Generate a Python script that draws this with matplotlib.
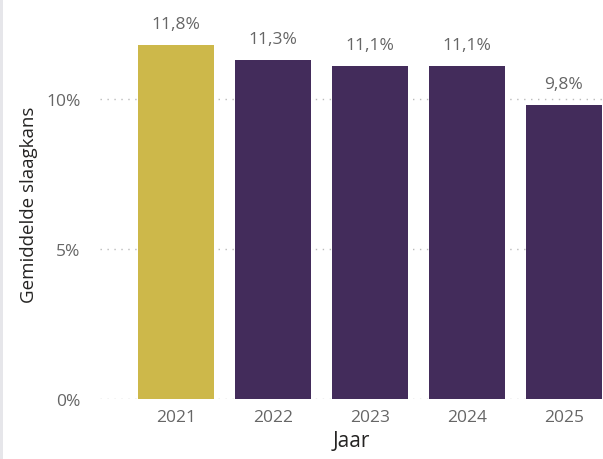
import matplotlib
matplotlib.use("Agg")
import matplotlib.pyplot as plt
from matplotlib.patches import Rectangle

# Data
years = ["2021", "2022", "2023", "2024", "2025"]
pass_rate = [11.8, 11.3, 11.1, 11.1, 9.8]
bar_colors = ["#CDB84A", "#432C5B", "#432C5B", "#432C5B", "#432C5B"]
value_labels = ["11,8%", "11,3%", "11,1%", "11,1%", "9,8%"]
y_ticks = [0, 5, 10]
y_tick_labels = ["0%", "5%", "10%"]

plt.rcParams["font.family"] = ["Open Sans", "DejaVu Sans"]

W, H = 603, 460
fig = plt.figure(figsize=(W / 100, H / 100), dpi=100)
fig.patch.set_facecolor("white")

# thin grey strip on the left edge
fig.patches.append(Rectangle((0, 0), 3 / W, 1, transform=fig.transFigure,
                             facecolor="#E6E6EA", edgecolor="none", zorder=0))

ax_left, ax_right = 100, 603
ax_bottom, ax_top = 400, 10
ax = fig.add_axes([ax_left / W, (H - ax_bottom) / H,
                   (ax_right - ax_left) / W, (ax_bottom - ax_top) / H])

x = list(range(len(years)))
ax.bar(x, pass_rate, width=0.78, color=bar_colors, zorder=2)

for xi, v, lab in zip(x, pass_rate, value_labels):
    ax.annotate(lab, (xi, v), xytext=(0, 9), textcoords="offset points",
                ha="center", va="bottom", fontsize=12.5, color="#666666")

ax.set_xlim(-0.785, 4.405)
ax.set_ylim(0, 13.0)
ax.set_yticks(y_ticks)
ax.set_yticklabels(y_tick_labels)
ax.set_xticks(x)
ax.set_xticklabels(years)
ax.tick_params(axis="both", length=0, labelsize=12.5, labelcolor="#666666")
ax.tick_params(axis="y", pad=14)
ax.tick_params(axis="x", pad=7)

ax.yaxis.grid(True, linestyle=(0, (1, 4)), color="#BBBBBB", linewidth=1.0, zorder=0)
ax.set_axisbelow(True)
for s in ax.spines.values():
    s.set_visible(False)

ax.set_xlabel("Jaar", fontsize=15, color="#252423", labelpad=4)
ax.set_ylabel("Gemiddelde slaagkans", fontsize=13.5, color="#252423", labelpad=6)

fig.savefig("out.png", dpi=100)
